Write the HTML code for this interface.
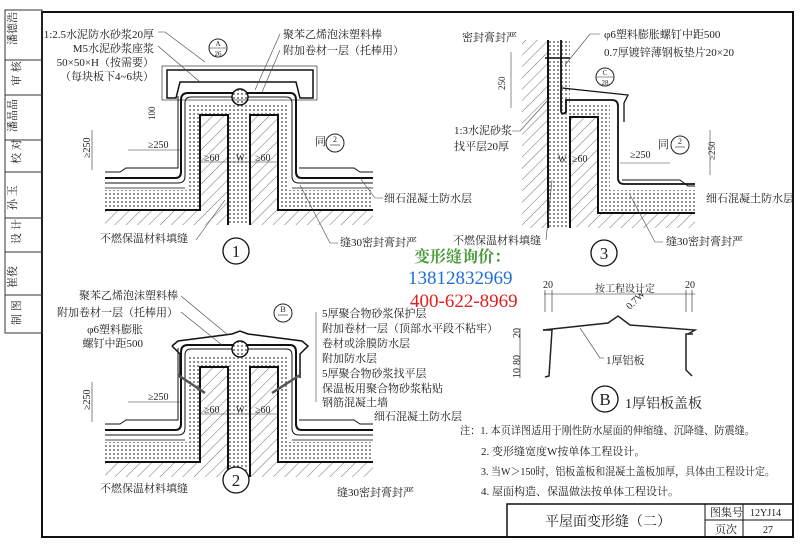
<!DOCTYPE html>
<html><head><meta charset="utf-8"><style>
html,body{margin:0;padding:0;background:#fff}
svg{display:block}
text{font-family:"Liberation Serif","Noto Serif CJK SC","Noto Sans CJK SC",serif;fill:#222}
</style></head><body>
<svg width="800" height="560" viewBox="0 0 800 560" xmlns="http://www.w3.org/2000/svg">
<defs>
<pattern id="h" width="8" height="8" patternUnits="userSpaceOnUse" patternTransform="rotate(45)"><line x1="0" y1="0" x2="0" y2="8" stroke="#333" stroke-width="0.7"/></pattern>
<pattern id="s" width="4" height="4" patternUnits="userSpaceOnUse"><rect width="4" height="4" fill="#fff"/><circle cx="2" cy="2" r="0.9" fill="#444"/></pattern>
</defs>
<rect width="800" height="560" fill="#fff"/>
<rect x="42" y="12" width="751" height="525" fill="none" stroke="#111" stroke-width="2"/>
<g stroke="#333" stroke-width="1" fill="none">
<rect x="5" y="10" width="37" height="323"/>
<line x1="5" y1="60" x2="42" y2="60"/><line x1="5" y1="95" x2="42" y2="95"/>
<line x1="5" y1="140" x2="42" y2="140"/><line x1="5" y1="172" x2="42" y2="172"/>
<line x1="5" y1="218" x2="42" y2="218"/><line x1="5" y1="252" x2="42" y2="252"/>
<line x1="5" y1="295" x2="42" y2="295"/>
</g>
<g font-size="11">
<text x="16" y="45" transform="rotate(-90 16 45)">潘德浩</text>
<text x="20" y="86" transform="rotate(-90 20 86)">审 核</text>
<text x="16" y="132" transform="rotate(-90 16 132)">潘晶晶</text>
<text x="20" y="164" transform="rotate(-90 20 164)">校 对</text>
<text x="16" y="210" transform="rotate(-90 16 210)">孙 玉</text>
<text x="20" y="244" transform="rotate(-90 20 244)">设 计</text>
<text x="16" y="288" transform="rotate(-90 16 288)">崔俊</text>
<text x="20" y="325" transform="rotate(-90 20 325)">制 图</text>
</g>

<g id="body">
<rect x="105" y="190" width="95" height="20" fill="url(#s)"/>
<rect x="288" y="190" width="85" height="20" fill="url(#s)"/>
<rect x="188" y="105" width="12" height="105" fill="url(#s)"/>
<rect x="278" y="105" width="10" height="105" fill="url(#s)"/>
<rect x="188" y="105" width="100" height="10" fill="url(#s)"/>
<rect x="200" y="115" width="28" height="110" fill="url(#h)"/>
<rect x="250" y="115" width="28" height="110" fill="url(#h)"/>
<rect x="105" y="210" width="95" height="15" fill="url(#h)"/>
<rect x="278" y="210" width="95" height="15" fill="url(#h)"/>
<rect x="228" y="115" width="22" height="110" fill="url(#s)"/>
<g stroke="#111" fill="none">
<path d="M105 210 H200 V115 H228 V225 M250 225 V115 H278 V210 H373" stroke-width="2"/>
<path d="M105 178 H175 Q181 178 181 172 V100 Q181 93 188 93 H290 Q296 93 296 100 V172 Q296 178 302 178 H373" stroke-width="2"/>
<path d="M105 183 H178 Q185 183 185 176 V103 Q185 97 191 97 H286 Q292 97 292 103 V176 Q292 183 299 183 H373" stroke-width="1"/>
<path d="M105 172 H120 L126 168 H178 V96 M373 172 H360 L354 168 H299" stroke-width="1"/>
<line x1="105" y1="188" x2="185" y2="188" stroke-width="0.8"/>
<line x1="292" y1="188" x2="373" y2="188" stroke-width="0.8"/>
</g>
<circle cx="240" cy="97" r="8" fill="url(#s)" stroke="#111" stroke-width="1.5"/>
<text x="204" y="161" font-size="10">≥60</text><text x="236" y="161" font-size="9">W</text><text x="255" y="161" font-size="10">≥60</text>
<line x1="200" y1="162" x2="278" y2="162" stroke="#333" stroke-width="0.6"/>
<text x="148" y="148" font-size="10">≥250</text>
<line x1="128" y1="150" x2="180" y2="150" stroke="#333" stroke-width="0.6"/>
<line x1="92" y1="130" x2="92" y2="170" stroke="#333" stroke-width="0.6"/>
<text x="90" y="158" font-size="10" transform="rotate(-90 90 158)">≥250</text>
</g>
<use href="#body" transform="translate(0,252)"/>

<g stroke="#111" fill="none" stroke-width="1.5">
<path d="M167 70 H313 V98 H300 L296 82 H180 L176 98 H167 Z"/>
<rect x="162" y="66" width="155" height="34" stroke-width="0.6"/>
</g>
<text x="236" y="257" font-size="17" text-anchor="middle">1</text>
<circle cx="236" cy="251" r="13" fill="none" stroke="#111" stroke-width="1.3"/>
<circle cx="218" cy="48" r="9" fill="#fff" stroke="#222"/><line x1="209" y1="48" x2="227" y2="48" stroke="#222" stroke-width="0.6"/>
<text x="218" y="46" font-size="7" text-anchor="middle">A</text><text x="218" y="56" font-size="7" text-anchor="middle">26</text>
<text x="315" y="145" font-size="11">同</text>
<circle cx="335" cy="143" r="9" fill="#fff" stroke="#222"/><text x="335" y="142" font-size="8" text-anchor="middle">2</text><line x1="330" y1="145" x2="340" y2="145" stroke="#222" stroke-width="0.6"/>
<text x="154" y="38" font-size="11" text-anchor="end">1:2.5水泥防水砂浆20厚</text>
<text x="154" y="52" font-size="11" text-anchor="end">M5水泥砂浆座浆</text>
<text x="154" y="66" font-size="11" text-anchor="end">50×50×H（按需要）</text>
<text x="154" y="80" font-size="11" text-anchor="end">（每块板下4~6块）</text>
<text x="283" y="38" font-size="11">聚苯乙烯泡沫塑料棒</text>
<text x="283" y="54" font-size="11">附加卷材一层（托棒用）</text>
<text x="384" y="202" font-size="11">细石混凝土防水层</text>
<text x="100" y="242" font-size="11">不燃保温材料填缝</text>
<text x="340" y="246" font-size="11">缝30密封膏封严</text>
<text x="155" y="120" font-size="9" transform="rotate(-90 155 120)">100</text>
<g stroke="#444" stroke-width="0.6" fill="none">
<path d="M158 32 H165 L205 62"/><path d="M158 46 L200 82"/><path d="M280 34 L255 90"/><path d="M280 50 L262 92"/>
<path d="M196 240 L225 200"/><path d="M338 243 L330 243 L300 185"/><path d="M383 198 L375 198 L360 178"/>
</g>

<g stroke="#111" fill="none" stroke-width="1.5">
<path d="M172 346 L178 341 L232 334 L240 331 L248 334 L302 341 L308 346 L300 354 V378"/>
<path d="M172 346 L180 354 V378"/>
</g>
<g stroke="#555" stroke-width="2.5"><line x1="178" y1="375" x2="205" y2="393"/><line x1="300" y1="375" x2="272" y2="393"/></g>
<circle cx="236" cy="480" r="13" fill="#fff" stroke="#111" stroke-width="1.3"/>
<text x="236" y="486" font-size="17" text-anchor="middle">2</text>
<circle cx="283" cy="313" r="9" fill="#fff" stroke="#222"/><text x="283" y="312" font-size="8" text-anchor="middle">B</text><line x1="278" y1="315" x2="288" y2="315" stroke="#222" stroke-width="0.6"/>
<text x="178" y="299" font-size="11" text-anchor="end">聚苯乙烯泡沫塑料棒</text>
<text x="178" y="316" font-size="11" text-anchor="end">附加卷材一层（托棒用）</text>
<text x="143" y="333" font-size="11" text-anchor="end">φ6塑料膨胀</text>
<text x="143" y="347" font-size="11" text-anchor="end">螺钉中距500</text>
<g font-size="11">
<text x="322" y="317">5厚聚合物砂浆保护层</text>
<text x="322" y="332">附加卷材一层（顶部水平段不粘牢）</text>
<text x="322" y="347">卷材或涂膜防水层</text>
<text x="322" y="362">附加防水层</text>
<text x="322" y="377">5厚聚合物砂浆找平层</text>
<text x="322" y="392">保温板用聚合物砂浆粘贴</text>
<text x="322" y="406">钢筋混凝土墙</text>
<text x="374" y="420">细石混凝土防水层</text>
<text x="100" y="492">不燃保温材料填缝</text>
<text x="337" y="496">缝30密封膏封严</text>
</g>
<g stroke="#444" stroke-width="0.6" fill="none"><line x1="316" y1="312" x2="316" y2="402"/><path d="M181 296 L228 335"/><path d="M181 312 L222 345"/></g>

<rect x="522" y="40" width="26" height="188" fill="url(#h)"/>
<rect x="548" y="40" width="22" height="188" fill="url(#s)"/>
<rect x="570" y="105" width="40" height="12" fill="url(#s)"/>
<rect x="598" y="117" width="12" height="73" fill="url(#s)"/>
<rect x="570" y="117" width="28" height="110" fill="url(#h)"/>
<rect x="598" y="190" width="97" height="23" fill="url(#s)"/>
<rect x="598" y="213" width="97" height="15" fill="url(#h)"/>
<g stroke="#111" fill="none">
<line x1="548" y1="40" x2="548" y2="228" stroke-width="2"/>
<path d="M570 228 V117 H598 V213 H695" stroke-width="2"/>
<path d="M561 40 V110 Q561 116 566 112 V100 H612 Q618 100 618 106 V178 Q618 184 624 184 H695" stroke-width="1.8"/>
<path d="M562 88 L628 95 L624 103 V122" stroke-width="1.3"/>
<line x1="545" y1="58" x2="570" y2="58" stroke-width="1.5"/>
<path d="M622 180 H680 L688 186 H695" stroke-width="1"/>
</g>
<text x="604" y="259" font-size="17" text-anchor="middle">3</text>
<circle cx="604" cy="253" r="13" fill="none" stroke="#111" stroke-width="1.3"/>
<circle cx="605" cy="77" r="9" fill="#fff" stroke="#222"/><text x="605" y="75" font-size="7" text-anchor="middle">C</text><text x="605" y="85" font-size="7" text-anchor="middle">28</text><line x1="596" y1="77" x2="614" y2="77" stroke="#222" stroke-width="0.6"/>
<g font-size="11">
<text x="462" y="41">密封膏封严</text>
<text x="604" y="38">φ6塑料膨胀螺钉中距500</text>
<text x="604" y="56">0.7厚镀锌薄钢板垫片20×20</text>
<text x="454" y="134">1:3水泥砂浆</text>
<text x="454" y="150">找平层20厚</text>
<text x="706" y="202">细石混凝土防水层</text>
<text x="453" y="244">不燃保温材料填缝</text>
<text x="666" y="245">缝30密封膏封严</text>
<text x="658" y="148">同</text>
<text x="630" y="158" font-size="10">≥250</text>
<text x="572" y="162" font-size="10">≥60</text><text x="558" y="162" font-size="9">W</text>
</g>
<circle cx="680" cy="145" r="9" fill="#fff" stroke="#222"/><text x="680" y="144" font-size="8" text-anchor="middle">2</text><line x1="675" y1="147" x2="685" y2="147" stroke="#222" stroke-width="0.6"/>
<g stroke="#444" stroke-width="0.6" fill="none">
<line x1="511" y1="52" x2="511" y2="108"/><line x1="710" y1="130" x2="710" y2="175"/><line x1="620" y1="163" x2="670" y2="163"/>
<path d="M600 34 L590 34 L565 65"/><path d="M512 131 L520 131 L548 100"/><path d="M546 240 L552 180"/><path d="M663 242 L655 242 L630 195"/>
</g>
<text x="505" y="90" font-size="9" transform="rotate(-90 505 90)">250</text>
<text x="715" y="160" font-size="9" transform="rotate(-90 715 160)">≥250</text>

<text x="414" y="262" font-size="16" font-weight="bold" style="fill:#4a9a3a">变形缝询价：</text>
<text x="408" y="284" font-size="19" style="fill:#1f6fd8" font-family="Liberation Sans,sans-serif">13812832969</text>
<text x="410" y="307" font-size="19" style="fill:#e02020" font-family="Liberation Sans,sans-serif">400-622-8969</text>

<g stroke="#222" fill="none">
<path d="M543 330 L608 323 L618 316 L630 325 L695 330 L688 334" stroke-width="1.5"/>
<path d="M543 330 L552 330 L549 376 L545 377" stroke-width="1.5"/>
<path d="M693 334 L686 334 L686 370 L692 376" stroke-width="1.5"/>
<line x1="544" y1="294" x2="695" y2="294" stroke-width="0.6"/>
<line x1="545" y1="290" x2="545" y2="312" stroke-width="0.6"/><line x1="552" y1="290" x2="552" y2="312" stroke-width="0.6"/>
<line x1="686" y1="290" x2="686" y2="312" stroke-width="0.6"/><line x1="692" y1="290" x2="692" y2="312" stroke-width="0.6"/>
<line x1="520" y1="328" x2="520" y2="378" stroke-width="0.6"/>
<path d="M580 328 L600 358 H604" stroke-width="0.6"/>
</g>
<g font-size="10">
<text x="543" y="288">20</text><text x="685" y="288">20</text>
<text x="595" y="292">按工程设计定</text>
<text x="520" y="338" transform="rotate(-90 520 338)">20</text>
<text x="520" y="365" transform="rotate(-90 520 365)">80</text>
<text x="520" y="378" transform="rotate(-90 520 378)">10</text>
<text x="630" y="310" transform="rotate(-45 630 310)">0.7W</text>
<text x="606" y="364" font-size="11">1厚铝板</text>
</g>
<circle cx="605" cy="399" r="13" fill="none" stroke="#111" stroke-width="1.3"/>
<text x="605" y="405" font-size="17" text-anchor="middle">B</text>
<text x="625" y="408" font-size="14">1厚铝板盖板</text>

<g font-size="11">
<text x="460" y="434" textLength="295" lengthAdjust="spacingAndGlyphs">注：1. 本页详图适用于刚性防水屋面的伸缩缝、沉降缝、防震缝。</text>
<text x="481" y="455">2. 变形缝宽度W按单体工程设计。</text>
<text x="481" y="475" textLength="294" lengthAdjust="spacingAndGlyphs">3. 当W＞150时，铝板盖板和混凝土盖板加厚，具体由工程设计定。</text>
<text x="481" y="495">4. 屋面构造、保温做法按单体工程设计。</text>
</g>

<g stroke="#111" fill="none">
<rect x="507" y="504" width="286" height="33" stroke-width="1.5"/>
<line x1="705" y1="504" x2="705" y2="537"/><line x1="743" y1="504" x2="743" y2="537"/><line x1="705" y1="520" x2="793" y2="520"/>
</g>
<text x="545" y="526" font-size="14">平屋面变形缝（二）</text>
<text x="710" y="516" font-size="11">图集号</text><text x="750" y="516" font-size="10">12YJ14</text>
<text x="715" y="533" font-size="11">页次</text><text x="763" y="533" font-size="10">27</text>
</svg>
</body></html>
